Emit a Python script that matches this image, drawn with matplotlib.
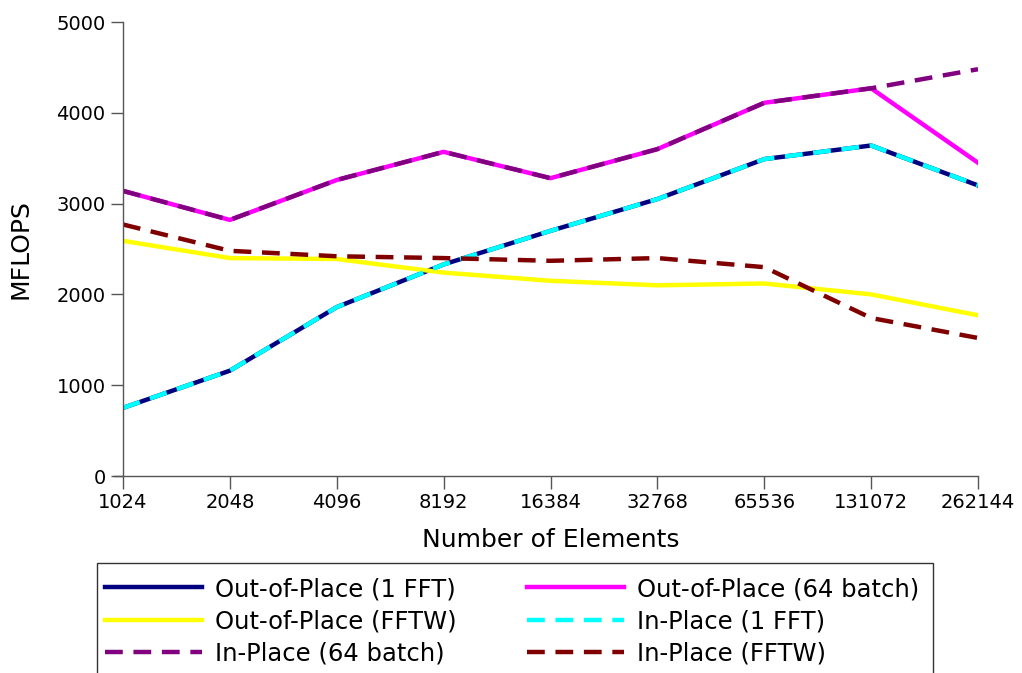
import matplotlib
matplotlib.use("Agg")
import matplotlib.pyplot as plt
from matplotlib.patches import Rectangle

# FFT throughput vs. transform size
sizes = ["1024", "2048", "4096", "8192", "16384", "32768", "65536", "131072", "262144"]

oop_1fft = [750, 1160, 1860, 2330, 2700, 3050, 3490, 3640, 3200]
oop_64batch = [3140, 2820, 3260, 3570, 3280, 3600, 4110, 4270, 3450]
oop_fftw = [2590, 2400, 2390, 2240, 2150, 2100, 2120, 2000, 1770]
ip_1fft = [750, 1160, 1860, 2330, 2700, 3050, 3490, 3640, 3200]
ip_64batch = [3140, 2820, 3260, 3570, 3280, 3600, 4110, 4270, 4480]
ip_fftw = [2770, 2480, 2420, 2400, 2370, 2400, 2300, 1740, 1520]

plt.rcParams["font.family"] = ["DejaVu Sans"]

W, H = 1022, 673
fig = plt.figure(figsize=(W / 100, H / 100), dpi=100)
ax = fig.add_axes([123 / W, 1 - 476 / H, (978 - 123) / W, (476 - 22) / H])

x = list(range(len(sizes)))
lw = 3.2
dash = (4, 2.4)

h_oop1, = ax.plot(x, oop_1fft, color="#000080", lw=lw, label="Out-of-Place (1 FFT)")
h_oop64, = ax.plot(x, oop_64batch, color="#ff00ff", lw=lw, label="Out-of-Place (64 batch)")
h_oopw, = ax.plot(x, oop_fftw, color="#ffff00", lw=lw, label="Out-of-Place (FFTW)")
h_ip1, = ax.plot(x, ip_1fft, color="#00ffff", lw=lw, dashes=dash, label="In-Place (1 FFT)")
h_ip64, = ax.plot(x, ip_64batch, color="#800080", lw=lw, dashes=dash, label="In-Place (64 batch)")
h_ipw, = ax.plot(x, ip_fftw, color="#800000", lw=lw, dashes=dash, label="In-Place (FFTW)")

ax.set_xlim(0, len(sizes) - 1)
ax.set_ylim(0, 5000)
ax.set_xticks(x)
ax.set_xticklabels(sizes)
ax.set_yticks([0, 1000, 2000, 3000, 4000, 5000])

for side in ["top", "right"]:
    ax.spines[side].set_visible(False)
for side in ["left", "bottom"]:
    ax.spines[side].set_color("#555555")
    ax.spines[side].set_linewidth(1)
ax.spines["bottom"].set_bounds(-0.085, len(sizes) - 1)
ax.tick_params(axis="both", colors="#555555", labelcolor="black", labelsize=14,
               length=9, width=1, direction="out")

ax.set_xlabel("Number of Elements", fontsize=18, labelpad=11)
ax.set_ylabel("MFLOPS", fontsize=18, labelpad=17)

# legend box runs off the bottom edge, so draw the frame by hand
fig.patches.append(Rectangle((97 / W, -0.1), (933 - 97) / W, 1 - 563 / H + 0.1,
                             transform=fig.transFigure, fill=False,
                             edgecolor="#333333", linewidth=1))

handles = [h_oop1, h_oopw, h_ip64, h_oop64, h_ip1, h_ipw]
leg = fig.legend(handles=handles, ncol=2, loc="upper left",
                 bbox_to_anchor=(105 / W, 1 - 577 / H),
                 prop={"size": 17.5},
                 handlelength=4.0, handletextpad=0.53, columnspacing=2.9,
                 labelspacing=0.34, borderpad=0, borderaxespad=0,
                 frameon=False)

fig.savefig("out.png", dpi=100)
